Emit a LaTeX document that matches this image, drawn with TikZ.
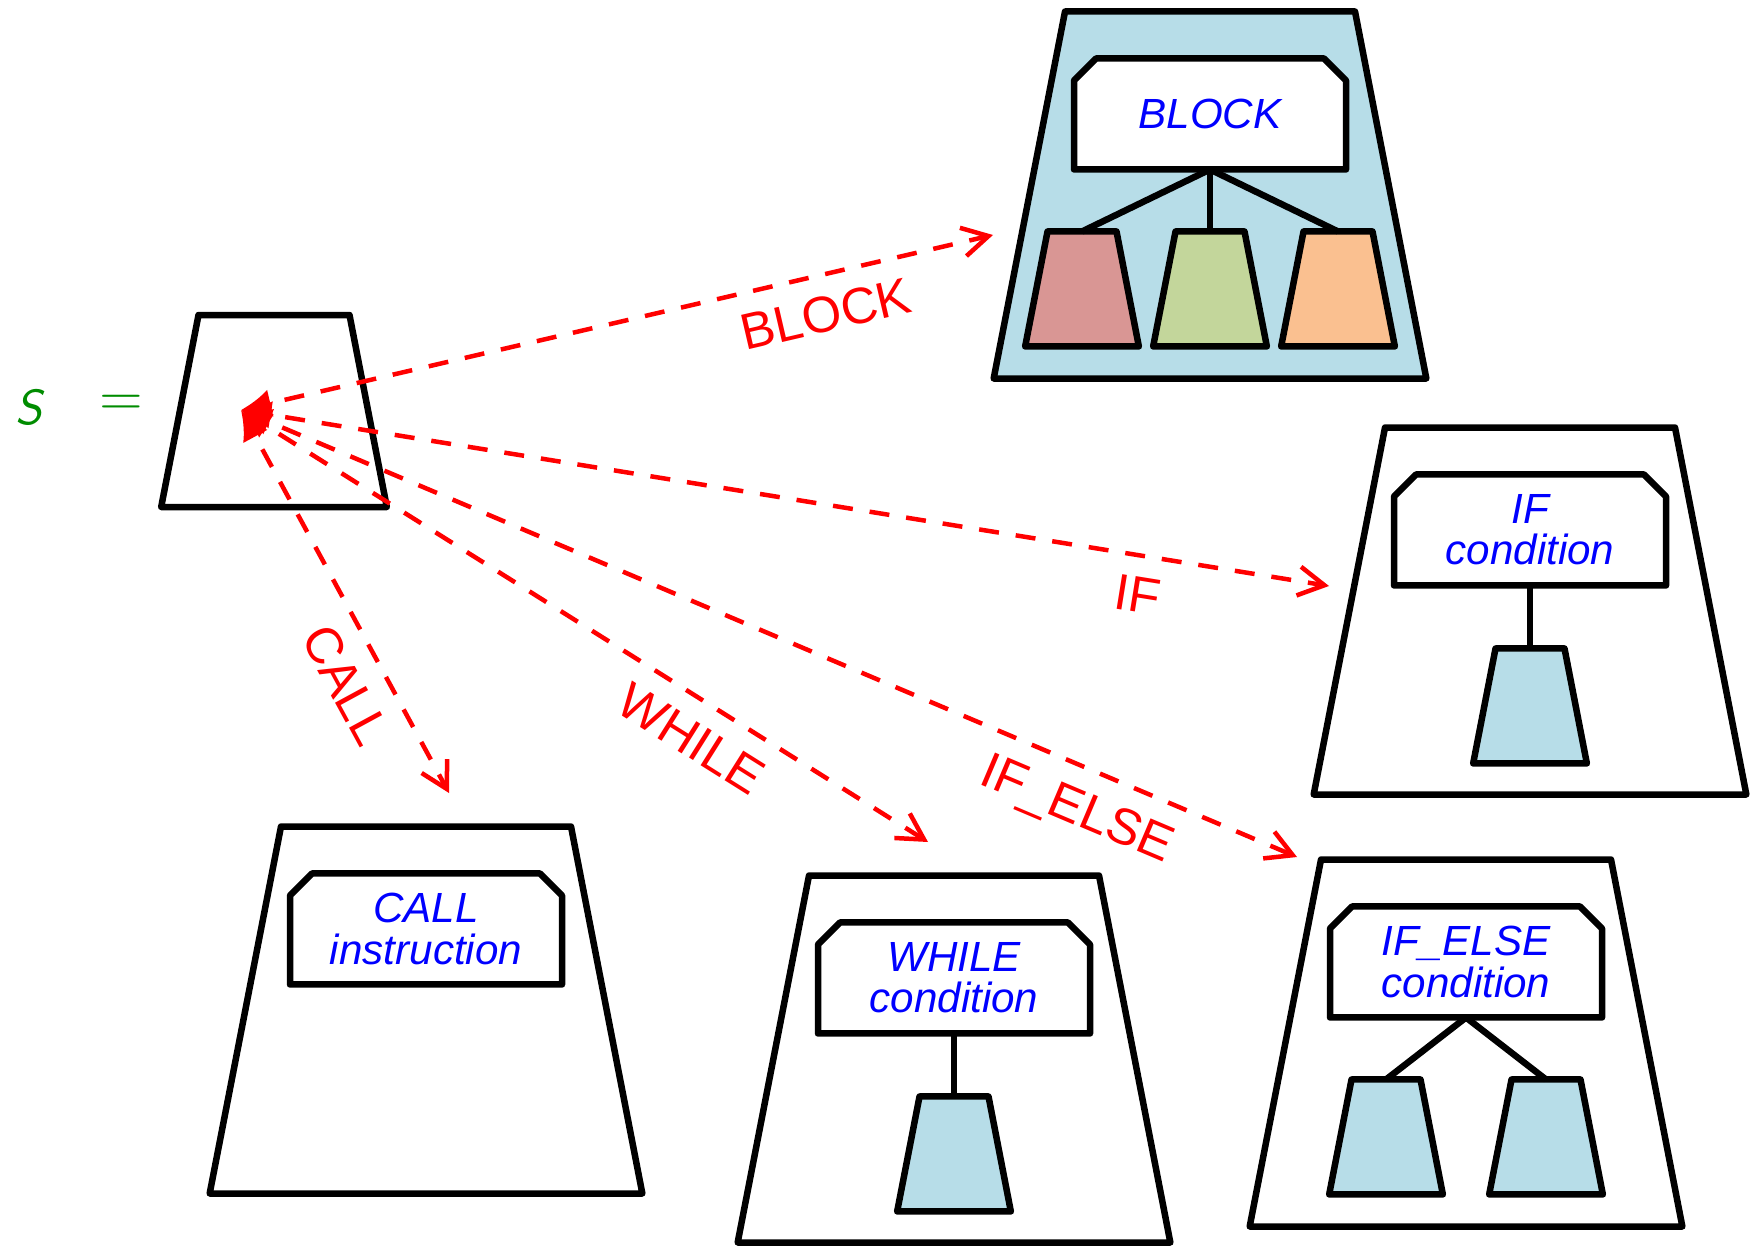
\documentclass[tikz,border=0pt]{standalone}
\usepackage{fontspec}
\setmainfont{Liberation Sans}
\usepackage{tikz}
\usetikzlibrary{arrows.meta,positioning,shapes.geometric,shapes.misc}
\definecolor{sgreen}{RGB}{0,140,0}
\definecolor{tblue}{RGB}{183,221,232}
\definecolor{tred}{RGB}{217,150,148}
\definecolor{tgreen}{RGB}{195,214,155}
\definecolor{torange}{RGB}{250,192,144}

\begin{document}
\begin{tikzpicture}[x=0.1mm,y=-0.1mm,line join=round]
\tikzstyle{trap}=[draw, line width=0.65mm, trapezium, trapezium angle=79, outer sep=0pt, fill=white]
\tikzstyle{big}=[trap, inner xsep=14.5mm, inner ysep=18.35mm]
\tikzstyle{kid}=[trap, inner xsep=3.45mm, inner ysep=5.75mm, fill=tblue]
\tikzstyle{head}=[draw, line width=0.65mm, fill=white, chamfered rectangle, chamfered rectangle corners={north west,north east}, chamfered rectangle xsep=1.1mm, chamfered rectangle ysep=1.1mm, minimum width=27.2mm, minimum height=11.1mm, inner sep=0pt, outer sep=0pt, align=center, text=blue, font=\fontsize{12}{11.7}\selectfont\itshape]
\tikzstyle{link}=[line width=0.65mm]
\tikzstyle{flow}=[red, line width=0.45mm, dash pattern=on 2mm off 1.7mm, dash phase=2mm, {Latex[length=3mm,width=2.8mm]}-{Straight Barb[length=2.6mm,width=2.9mm]}]
\tikzstyle{lab}=[text=red, font=\fontsize{14.5}{14.5}\selectfont, sloped, below, inner sep=1.9mm]

\useasboundingbox (0,0) rectangle (1754,1246);

\node[text=sgreen, font=\fontsize{14}{14}\selectfont\sffamily\itshape] (lhs) at (29,407) {S};
\node[text=sgreen, font=\fontsize{17}{17}\selectfont\sffamily] (eq) at (121,406) {=};
\node[trap, inner xsep=7.55mm, inner ysep=9.6mm] (stmt) at (274,411) {};

% block with three statements
\node[big, fill=tblue] (blk) at (1210,195) {};
\node[head, below=4.7mm of blk.north] (blkh) {BLOCK};
\node[kid, fill=tred, below=6.2mm of blkh.south, xshift=-12.8mm] (blk1) {};
\node[kid, fill=tgreen, below=6.2mm of blkh.south] (blk2) {};
\node[kid, fill=torange, below=6.2mm of blkh.south, xshift=12.8mm] (blk3) {};
\draw[link] (blkh.south) -- (blk1.north);
\draw[link] (blkh.south) -- (blk2.north);
\draw[link] (blkh.south) -- (blk3.north);

% if
\node[big] (ift) at (1530,611) {};
\node[head, below=4.7mm of ift.north] (ifth) {IF\\condition};
\node[kid, below=6.3mm of ifth.south] (ift1) {};
\draw[link] (ifth.south) -- (ift1.north);

% call
\node[big] (call) at (426,1010) {};
\node[head, below=4.7mm of call.north] (callh) {CALL\\instruction};

% while
\node[big] (wh) at (954,1059) {};
\node[head, below=4.7mm of wh.north] (whh) {WHILE\\condition};
\node[kid, below=6.3mm of whh.south] (wh1) {};
\draw[link] (whh.south) -- (wh1.north);

% if-else
\node[big] (ife) at (1466,1043) {};
\node[head, below=4.7mm of ife.north] (ifeh) {IF\_ELSE\\condition};
\node[kid, below=6.2mm of ifeh.south, xshift=-8mm] (ife1) {};
\node[kid, below=6.2mm of ifeh.south, xshift=8mm] (ife2) {};
\draw[link] (ifeh.south) -- (ife1.north);
\draw[link] (ifeh.south) -- (ife2.north);

% productions
\coordinate (src) at (241,410);
\coordinate (toblk) at (993,235);
\coordinate (toift) at (1329,586);
\coordinate (tocall) at (449,793);
\coordinate (towh) at (928,842);
\coordinate (toife) at (1297,857);
\draw[flow] (src) -- node[lab, pos=.766] {BLOCK} (toblk);
\draw[flow] (src) -- node[lab, pos=.83] {IF} (toift);
\draw[flow] (src) -- node[lab, pos=.67] {CALL} (tocall);
\draw[flow] (src) -- node[lab, pos=.685] {WHILE} (towh);
\draw[flow] (src) -- node[lab, pos=.807] {IF\_ELSE} (toife);
\end{tikzpicture}
\end{document}
